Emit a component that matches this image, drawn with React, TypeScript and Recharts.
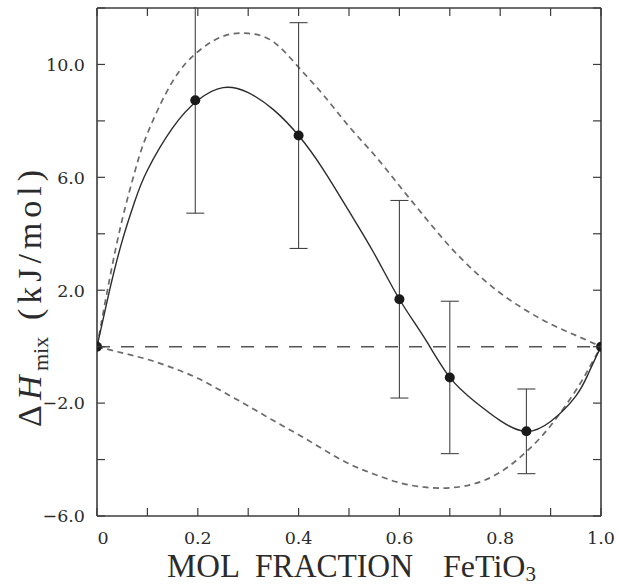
import React from 'react';
import { ComposedChart, Line, XAxis, YAxis, ReferenceLine, ErrorBar } from 'recharts';

// Tick values and labels
const xTicks = [0, 0.1, 0.2, 0.3, 0.4, 0.5, 0.6, 0.7, 0.8, 0.9, 1.0];
const xTickLabels = ['0', '', '0.2', '', '0.4', '', '0.6', '', '0.8', '', '1.0'];
const yTicks = [-6, -4, -2, 0, 2, 4, 6, 8, 10, 12];
const yTickLabels = ['\u22126.0', '', '\u22122.0', '', '2.0', '', '6.0', '', '10.0', ''];

// Measured points with error bars
const molFraction = [0, 0.195, 0.4, 0.6, 0.7, 0.852, 1.0];
const dHmix = [0, 8.73, 7.48, 1.68, -1.09, -3.0, 0];
const dHmixErr = [0, 4.0, 4.0, 3.5, 2.7, 1.5, 0];

// Fitted solid curve
const fitX = [0, 0.025, 0.05, 0.075, 0.1, 0.15, 0.2, 0.25, 0.3, 0.35, 0.4, 0.45, 0.5, 0.55, 0.6, 0.65, 0.7, 0.75, 0.8, 0.85, 0.9, 0.95, 0.975, 1.0];
const fitY = [0, 2.0, 3.75, 5.15, 6.25, 7.75, 8.73, 9.18, 9.0, 8.4, 7.48, 6.25, 4.8, 3.3, 1.68, 0.3, -1.09, -1.95, -2.62, -3.0, -2.65, -1.75, -0.95, 0];

// Upper dashed bound
const upperX = [0, 0.025, 0.05, 0.075, 0.1, 0.15, 0.2, 0.25, 0.3, 0.35, 0.4, 0.45, 0.5, 0.55, 0.6, 0.65, 0.7, 0.75, 0.8, 0.85, 0.9, 0.95, 1.0];
const upperY = [0, 2.4, 4.5, 6.2, 7.55, 9.4, 10.45, 11.0, 11.1, 10.8, 9.9, 8.9, 7.8, 6.8, 5.7, 4.6, 3.55, 2.65, 1.9, 1.3, 0.8, 0.4, 0];

// Lower dashed bound
const lowerX = [0, 0.05, 0.1, 0.15, 0.2, 0.25, 0.3, 0.35, 0.4, 0.45, 0.5, 0.55, 0.6, 0.65, 0.7, 0.75, 0.8, 0.85, 0.9, 0.95, 0.975, 1.0];
const lowerY = [0, -0.22, -0.45, -0.75, -1.12, -1.6, -2.1, -2.62, -3.12, -3.65, -4.15, -4.52, -4.82, -4.98, -5.0, -4.85, -4.45, -3.75, -2.8, -1.55, -0.8, 0];

const INK = '#2b2b2b';
const AXIS = '#3c3c3c';
const SERIF = '"Liberation Serif", "Times New Roman", serif';
const TICKFONT = '"DejaVu Serif", serif';
const TICK_LEN = 8;

const BottomTick = (props: any) => {
  const { x, y, payload } = props;
  const i = xTicks.indexOf(payload.value);
  const label = i >= 0 ? xTickLabels[i] : '';
  return (
    <g>
      <line x1={x} x2={x} y1={y} y2={y - TICK_LEN} stroke={AXIS} strokeWidth={1.2} />
      {label ? (
        <text x={x + (payload.value === 0 ? 6 : 0)} y={y + 27.5} textAnchor="middle" fontSize={17.5} fill={INK} fontFamily={TICKFONT}>
          {label}
        </text>
      ) : null}
    </g>
  );
};

const TopTick = (props: any) => {
  const { x, y } = props;
  return <line x1={x} x2={x} y1={y} y2={y + TICK_LEN} stroke={AXIS} strokeWidth={1.2} />;
};

const LeftTick = (props: any) => {
  const { x, y, payload } = props;
  const i = yTicks.indexOf(payload.value);
  const label = i >= 0 ? yTickLabels[i] : '';
  return (
    <g>
      <line x1={x} x2={x + TICK_LEN} y1={y} y2={y} stroke={AXIS} strokeWidth={1.2} />
      {label ? (
        <text x={x - 12} y={y} dy="0.36em" textAnchor="end" fontSize={17.5} fill={INK} fontFamily={TICKFONT}>
          {label}
        </text>
      ) : null}
    </g>
  );
};

const RightTick = (props: any) => {
  const { x, y } = props;
  return <line x1={x} x2={x - TICK_LEN} y1={y} y2={y} stroke={AXIS} strokeWidth={1.2} />;
};

const XTitle = (props: any) => {
  const vb = props.viewBox || { x: 97, width: 504, y: 509 };
  const base = vb.y + 61;
  const common = { fontSize: 34, fill: INK, fontFamily: SERIF, lengthAdjust: 'spacingAndGlyphs' as const };
  return (
    <g>
      <text x={vb.x + 70} y={base} textLength={73} {...common}>MOL</text>
      <text x={vb.x + 158} y={base} textLength={158} {...common}>FRACTION</text>
      <text x={vb.x + 346} y={base} fontSize={32} fill={INK} fontFamily={SERIF}>
        FeTiO<tspan fontSize={21} dy={4}>3</tspan>
      </text>
    </g>
  );
};

const YTitle = (props: any) => {
  const vb = props.viewBox || { x: 0, y: 1, width: 97, height: 508 };
  const bx = 41;
  const by = vb.y + 419;
  return (
    <g transform={`translate(${bx}, ${by}) rotate(-90)`}>
      <text x={0} y={0} fontSize={34} fill={INK} fontFamily={SERIF}>{'\u0394'}</text>
      <text x={27} y={0} fontSize={34} fill={INK} fontFamily={SERIF} fontStyle="italic">H</text>
      <text x={56} y={7} fontSize={22} fill={INK} fontFamily={SERIF}>mix</text>
      <text x={107} y={0} fontSize={34} fill={INK} fontFamily={SERIF} textLength={150} lengthAdjust="spacing">(kJ/mol)</text>
    </g>
  );
};

export default function App() {
  const points = molFraction.map((x, i) => ({ x, y: dHmix[i], err: dHmixErr[i] }));
  const fit = fitX.map((x, i) => ({ x, y: fitY[i] }));
  const upper = upperX.map((x, i) => ({ x, y: upperY[i] }));
  const lower = lowerX.map((x, i) => ({ x, y: lowerY[i] }));

  return (
    <div style={{ position: 'absolute', left: 0, top: 0, width: 617, height: 586, background: '#fff' }}>
      <div style={{ position: 'absolute', left: 0, top: 7, width: 617, height: 579, overflow: 'hidden' }}>
        <ComposedChart width={617} height={579} margin={{ top: 0, right: 15, bottom: 0, left: 0 }}>
          <XAxis
            xAxisId="b"
            type="number"
            dataKey="x"
            domain={[0, 1]}
            ticks={xTicks}
            interval={0}
            height={70}
            tickSize={0}
            tickMargin={0}
            allowDataOverflow
            axisLine={{ stroke: AXIS, strokeWidth: 1.6 }}
            tickLine={false}
            tick={<BottomTick />}
            label={<XTitle />}
          />
          <XAxis
            xAxisId="t"
            orientation="top"
            type="number"
            dataKey="x"
            domain={[0, 1]}
            ticks={xTicks}
            interval={0}
            height={1}
            tickSize={0}
            tickMargin={0}
            allowDataOverflow
            axisLine={{ stroke: AXIS, strokeWidth: 1.6 }}
            tickLine={false}
            tick={<TopTick />}
          />
          <YAxis
            yAxisId="l"
            type="number"
            domain={[-6, 12]}
            ticks={yTicks}
            interval={0}
            width={97}
            tickSize={0}
            tickMargin={0}
            allowDataOverflow
            axisLine={{ stroke: AXIS, strokeWidth: 1.6 }}
            tickLine={false}
            tick={<LeftTick />}
            label={<YTitle />}
          />
          <YAxis
            yAxisId="r"
            orientation="right"
            type="number"
            domain={[-6, 12]}
            ticks={yTicks}
            interval={0}
            width={1}
            tickSize={0}
            tickMargin={0}
            allowDataOverflow
            axisLine={{ stroke: AXIS, strokeWidth: 1.6 }}
            tickLine={false}
            tick={<RightTick />}
          />
          <ReferenceLine xAxisId="b" yAxisId="l" y={0} stroke="#555" strokeWidth={1.5} strokeDasharray="13 11" />
          <Line xAxisId="t" yAxisId="r" data={points} dataKey="y" stroke="none" strokeWidth={0} dot={false} activeDot={false} isAnimationActive={false} />
          <Line xAxisId="b" yAxisId="l" data={upper} dataKey="y" type="natural" stroke="#6a6a6a" strokeWidth={1.7} strokeDasharray="6 4.5" dot={false} activeDot={false} isAnimationActive={false} />
          <Line xAxisId="b" yAxisId="l" data={lower} dataKey="y" type="natural" stroke="#6a6a6a" strokeWidth={1.7} strokeDasharray="6 4.5" dot={false} activeDot={false} isAnimationActive={false} />
          <Line xAxisId="b" yAxisId="l" data={fit} dataKey="y" type="natural" stroke={INK} strokeWidth={1.4} dot={false} activeDot={false} isAnimationActive={false} />
          <Line
            xAxisId="b"
            yAxisId="l"
            data={points}
            dataKey="y"
            stroke="none"
            strokeWidth={0}
            dot={{ r: 5, fill: '#1a1a1a', stroke: 'none' }}
            activeDot={false}
            isAnimationActive={false}
          >
            <ErrorBar dataKey="err" direction="y" width={9} stroke="#444" strokeWidth={1.1} />
          </Line>
        </ComposedChart>
      </div>
    </div>
  );
}
